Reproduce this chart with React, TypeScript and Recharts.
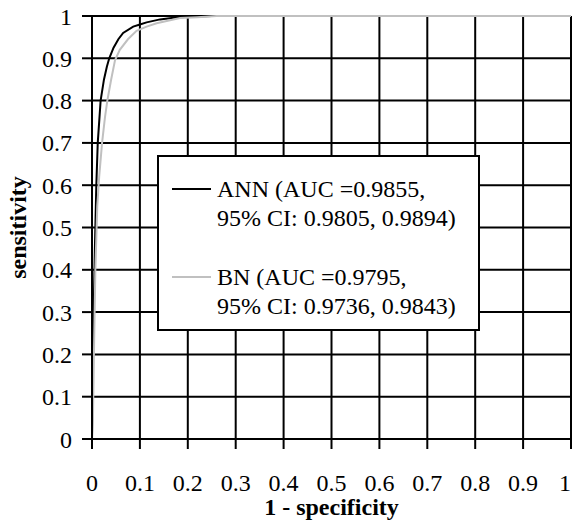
import React from 'react';
import {
  LineChart,
  Line,
  XAxis,
  YAxis,
  CartesianGrid,
  Legend,
  Label,
} from 'recharts';

// ROC points (1 - specificity, sensitivity)
const annFpr = [0, 0.002, 0.0035, 0.006, 0.009, 0.012, 0.018, 0.025, 0.031, 0.036, 0.045, 0.055, 0.065, 0.086, 0.1, 0.114, 0.142, 0.17, 0.2, 0.25, 1];
const annTpr = [0, 0.2, 0.3, 0.45, 0.6, 0.7, 0.8, 0.85, 0.88, 0.9, 0.925, 0.945, 0.96, 0.975, 0.98, 0.985, 0.992, 0.996, 0.998, 1, 1];

const bnFpr = [0, 0.002, 0.004, 0.007, 0.011, 0.015, 0.021, 0.027, 0.032, 0.04, 0.048, 0.058, 0.075, 0.093, 0.114, 0.135, 0.163, 0.184, 0.22, 0.26, 1];
const bnTpr = [0, 0.05, 0.2, 0.4, 0.55, 0.62, 0.7, 0.76, 0.8, 0.85, 0.895, 0.92, 0.945, 0.965, 0.975, 0.983, 0.99, 0.995, 0.997, 1, 1];

const ticks = [0, 0.1, 0.2, 0.3, 0.4, 0.5, 0.6, 0.7, 0.8, 0.9, 1];

const annLabel = ['ANN (AUC =0.9855,', '95% CI: 0.9805, 0.9894)'];
const bnLabel = ['BN (AUC =0.9795,', '95% CI: 0.9736, 0.9843)'];

const annData = annFpr.map((x, i) => ({ x, y: annTpr[i] }));
const bnData = bnFpr.map((x, i) => ({ x, y: bnTpr[i] }));

const FONT = '"Liberation Serif", "Times New Roman", serif';
const fmt = (v: number) => String(Math.round(v * 10) / 10);

// x tick label; the last one is right-aligned so it stays inside the picture
function XTick(props: any) {
  const { x, y, payload } = props;
  const last = payload.value === 1;
  return (
    <text
      x={x}
      y={y}
      dy="0.71em"
      textAnchor={last ? 'end' : 'middle'}
      fill="#000"
      fontSize={24}
      fontFamily={FONT}
    >
      {fmt(payload.value)}
    </text>
  );
}

function LegendBox() {
  const entries = [
    { color: '#000000', lines: annLabel, top: 18 },
    { color: '#c0c0c0', lines: bnLabel, top: 106 },
  ];
  return (
    <div
      style={{
        position: 'relative',
        width: 323,
        height: 176,
        boxSizing: 'border-box',
        border: '2px solid #000',
        background: '#fff',
        fontFamily: FONT,
        fontSize: 24,
        lineHeight: '29px',
        color: '#000',
        textAlign: 'left',
      }}
    >
      {entries.map((e) => (
        <React.Fragment key={e.lines[0]}>
          <div style={{ position: 'absolute', left: 13, top: e.top + 13, width: 39, height: 2, background: e.color }} />
          <div style={{ position: 'absolute', left: 58, top: e.top, whiteSpace: 'nowrap' }}>
            {e.lines.map((l) => (
              <div key={l}>{l}</div>
            ))}
          </div>
        </React.Fragment>
      ))}
    </div>
  );
}

export default function App() {
  return (
    <div style={{ position: 'absolute', left: 0, top: 0, background: '#fff' }}>
      <LineChart width={573} height={521} margin={{ top: 16, right: 2, left: 0, bottom: 0 }}>
        <CartesianGrid stroke="#000" strokeWidth={2} />
        <XAxis
          dataKey="x"
          type="number"
          domain={[0, 1]}
          ticks={ticks}
          interval={0}
          height={82}
          tickSize={10}
          tickMargin={25}
          axisLine={{ stroke: '#000', strokeWidth: 2 }}
          tickLine={{ stroke: '#000', strokeWidth: 2 }}
          tick={<XTick />}
        >
          <Label
            value="1 - specificity"
            position="insideBottom"
            offset={6}
            style={{ fontFamily: FONT, fontSize: 24, fontWeight: 'bold', fill: '#000' }}
          />
        </XAxis>
        <YAxis
          type="number"
          domain={[0, 1]}
          ticks={ticks}
          interval={0}
          tickFormatter={fmt}
          width={92}
          tickSize={10}
          tickMargin={10}
          axisLine={{ stroke: '#000', strokeWidth: 2 }}
          tickLine={{ stroke: '#000', strokeWidth: 2 }}
          tick={{ fill: '#000', fontSize: 24, fontFamily: FONT }}
        >
          <Label
            value="sensitivity"
            angle={-90}
            position="insideLeft"
            offset={17}
            style={{ fontFamily: FONT, fontSize: 24, fontWeight: 'bold', fill: '#000', textAnchor: 'middle' }}
          />
        </YAxis>
        <Line data={annData} dataKey="y" stroke="#000" strokeWidth={2} dot={false} type="linear" isAnimationActive={false} />
        <Line data={bnData} dataKey="y" stroke="#c0c0c0" strokeWidth={2} dot={false} type="linear" isAnimationActive={false} />
        <Legend
          layout="horizontal"
          align="center"
          verticalAlign="middle"
          content={() => <LegendBox />}
          wrapperStyle={{ left: 157, top: 155, width: 323, height: 176 }}
        />
      </LineChart>
    </div>
  );
}
